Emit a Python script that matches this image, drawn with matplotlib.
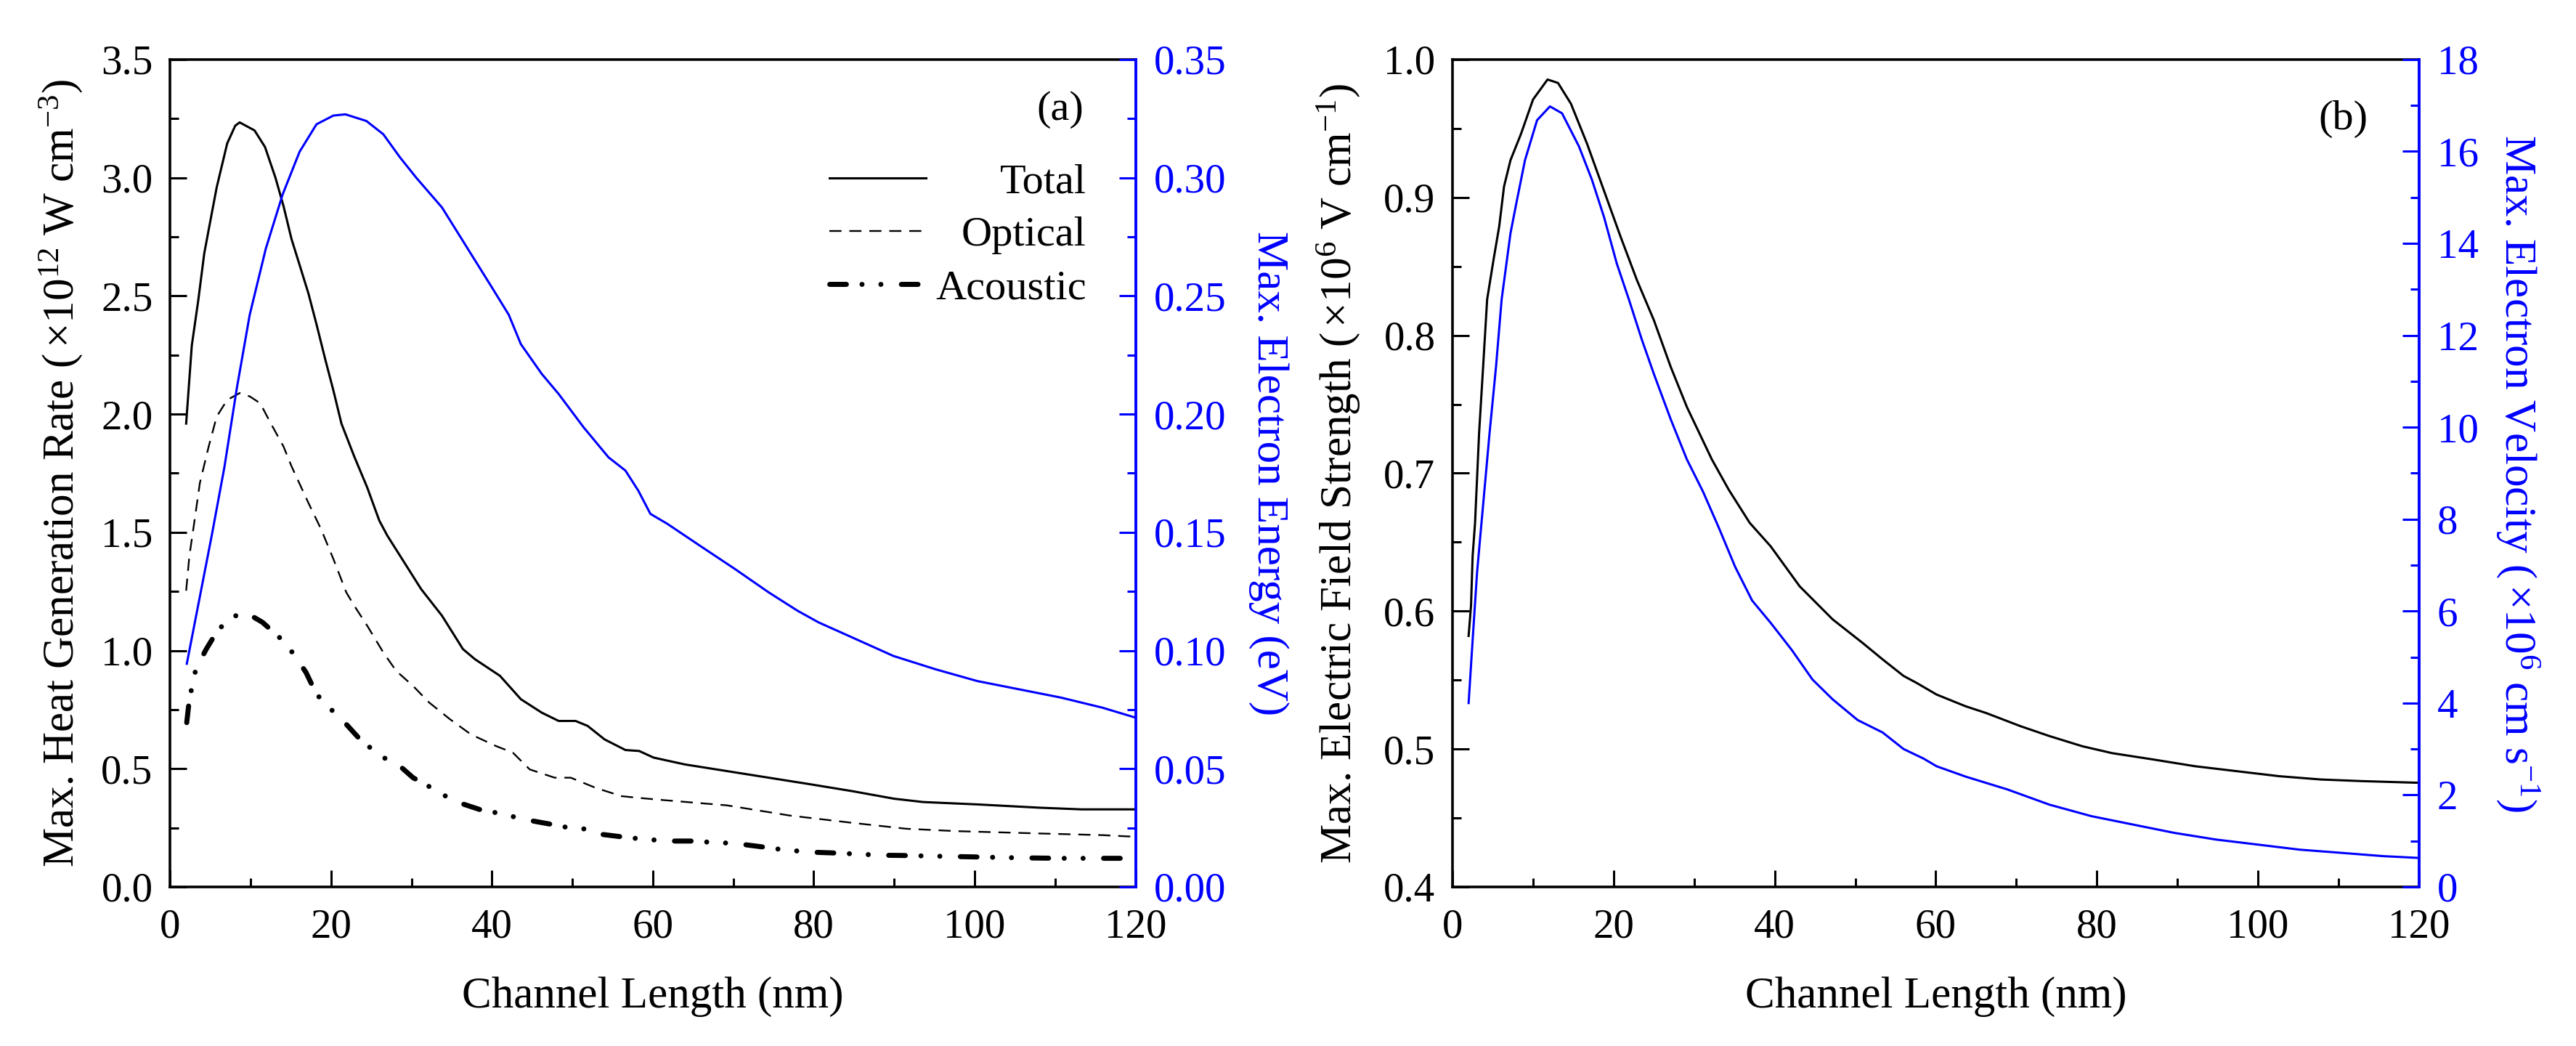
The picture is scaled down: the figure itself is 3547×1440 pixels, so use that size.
import matplotlib
matplotlib.use('Agg')
import matplotlib.pyplot as plt
from matplotlib.ticker import MultipleLocator, FormatStrFormatter
import matplotlib.transforms as mtransforms

plt.rcParams['font.family'] = ['Liberation Serif', 'DejaVu Serif']
plt.rcParams['mathtext.fontset'] = 'custom'
plt.rcParams['mathtext.rm'] = 'Liberation Serif'
plt.rcParams['mathtext.it'] = 'Liberation Serif:italic'
plt.rcParams['mathtext.bf'] = 'Liberation Serif:bold'
plt.rcParams['lines.scale_dashes'] = False

# ---------------- data: panel (a) ----------------
tot_x = [2.0, 2.7, 3.5, 4.25, 4.8, 5.8, 7.1, 8.1, 8.65, 10.5, 11.8, 13.1, 14.1, 15.1, 16.2, 17.2,
         18.2, 19.3, 20.3, 21.3, 22.9, 24.5, 26.0, 27.0, 28.6, 31.2, 33.8, 36.4, 37.9, 41.0, 43.6,
         46.2, 48.3, 50.4, 51.9, 54.0, 56.6, 58.3, 60.1, 64.0, 69.2, 74.4, 79.6, 84.8, 90.0, 93.6,
         100.3, 108.1, 113.3, 120.0]
tot_y = [1.96, 2.29, 2.48, 2.68, 2.78, 2.96, 3.145, 3.22, 3.234, 3.20, 3.13, 3.00, 2.88, 2.74, 2.62,
         2.51, 2.38, 2.23, 2.10, 1.96, 1.82, 1.69, 1.55, 1.486, 1.40, 1.26, 1.147, 1.006, 0.963, 0.893,
         0.794, 0.737, 0.702, 0.702, 0.681, 0.624, 0.579, 0.575, 0.547, 0.518, 0.49, 0.462, 0.434,
         0.405, 0.373, 0.359, 0.349, 0.335, 0.328, 0.328]

opt_x = [2.0, 2.4, 3.0, 3.7, 4.8, 5.8, 7.1, 8.65, 9.9, 11.2, 12.5, 14.1, 15.1, 17.2, 18.76, 20.3,
         21.9, 22.9, 24.5, 26.5, 28.1, 30.2, 32.2, 34.8, 37.4, 40.5, 42.6, 44.7, 47.8, 49.8, 52.9,
         56.1, 58.1, 61.4, 69.2, 77.0, 84.8, 91.5, 97.7, 108.1, 115.9, 120.0]
opt_y = [1.253, 1.40, 1.54, 1.708, 1.863, 1.99, 2.06, 2.089, 2.075, 2.046, 1.962, 1.863, 1.779, 1.624,
         1.514, 1.387, 1.246, 1.189, 1.105, 0.992, 0.914, 0.85, 0.78, 0.709, 0.645, 0.596, 0.568,
         0.497, 0.462, 0.462, 0.419, 0.384, 0.377, 0.367, 0.345, 0.302, 0.271, 0.246, 0.236, 0.226,
         0.219, 0.212]

ac_x = [2.07, 2.4, 3.2, 4.5, 5.5, 7.2, 9.4, 11.5, 13.6, 15.4, 16.9, 18.2, 19.8, 21.9, 23.8, 26.5,
        28.1, 30.2, 32.5, 35.3, 38.7, 41.0, 44.1, 47.5, 49.6, 52.4, 53.7, 56.1, 58.5, 61.9, 65.0,
        67.1, 70.2, 73.9, 76.0, 79.6, 82.2, 84.8, 88.4, 91.0, 95.1, 99.8, 105.5, 110.7, 114.9, 119.5]
ac_y = [0.695, 0.794, 0.921, 1.006, 1.062, 1.136, 1.161, 1.119, 1.055, 0.984, 0.907, 0.815, 0.758,
        0.688, 0.617, 0.547, 0.525, 0.462, 0.419, 0.363, 0.325, 0.311, 0.285, 0.264, 0.25, 0.243,
        0.222, 0.212, 0.203, 0.194, 0.194, 0.189, 0.184, 0.168, 0.158, 0.147, 0.144, 0.14, 0.134,
        0.133, 0.13, 0.127, 0.123, 0.121, 0.121, 0.121]

en_x = [2.08, 3.6, 5.2, 6.75, 8.3, 9.9, 11.9, 14.0, 16.1, 18.2, 20.3, 21.8, 24.4, 26.5, 28.6, 30.6,
        33.8, 36.9, 40.0, 42.1, 43.6, 46.2, 48.3, 51.4, 54.5, 56.6, 58.2, 59.7, 61.8, 66.0, 70.2,
        74.4, 78.0, 80.6, 84.8, 89.9, 95.1, 100.3, 105.5, 110.7, 115.9, 120.0]
en_y = [0.0944, 0.121, 0.149, 0.1775, 0.211, 0.242, 0.270, 0.293, 0.311, 0.3226, 0.3263, 0.3268,
        0.324, 0.3184, 0.3085, 0.300, 0.2874, 0.2705, 0.2536, 0.242, 0.2296, 0.217, 0.2085, 0.1944,
        0.1817, 0.1761, 0.1676, 0.1578, 0.1536, 0.1440, 0.1345, 0.1246, 0.1168, 0.1119, 0.1055,
        0.0977, 0.0921, 0.0871, 0.0836, 0.0801, 0.0758, 0.0716]

# ---------------- data: panel (b) ----------------
f_x = [2.0, 2.3, 2.5, 2.8, 3.3, 3.8, 4.3, 5.1, 5.8, 6.4, 7.2, 8.5, 10.0, 11.8, 13.1, 14.7, 16.7,
       18.8, 20.9, 22.9, 25.0, 27.1, 29.1, 32.2, 34.3, 36.9, 39.5, 43.1, 47.2, 50.9, 53.4, 56.0,
       57.6, 60.1, 63.7, 66.3, 70.5, 74.1, 78.2, 81.9, 87.0, 92.2, 97.4, 102.6, 107.8, 113.0, 120.0]
f_y = [0.582, 0.604, 0.64, 0.664, 0.729, 0.777, 0.826, 0.855, 0.879, 0.908, 0.927, 0.946, 0.971,
       0.9855, 0.983, 0.968, 0.939, 0.905, 0.871, 0.84, 0.811, 0.777, 0.748, 0.71, 0.688, 0.664,
       0.647, 0.618, 0.594, 0.577, 0.565, 0.553, 0.548, 0.5395, 0.531, 0.526, 0.5166, 0.5094, 0.502,
       0.497, 0.4924, 0.4875, 0.4839, 0.4803, 0.4779, 0.4767, 0.4755]

v_x = [2.0, 2.5, 3.05, 3.6, 4.6, 5.4, 6.1, 7.2, 8.0, 9.0, 10.5, 12.1, 13.6, 15.7, 17.3, 18.8, 20.4,
       21.9, 23.5, 25.0, 27.1, 29.1, 31.1, 33.1, 35.1, 37.2, 39.5, 42.1, 44.7, 47.2, 50.3, 53.4,
       56.0, 58.5, 60.1, 63.7, 68.9, 74.1, 79.3, 84.5, 89.6, 94.8, 100.0, 105.2, 110.4, 115.5, 120.0]
v_y = [4.0, 5.37, 6.84, 7.92, 9.87, 11.31, 12.78, 14.22, 14.94, 15.81, 16.68, 16.98, 16.83, 16.11,
       15.39, 14.58, 13.56, 12.78, 11.91, 11.16, 10.17, 9.3, 8.6, 7.8, 6.96, 6.23, 5.745, 5.16,
       4.51, 4.08, 3.63, 3.36, 3.0, 2.79, 2.625, 2.4, 2.12, 1.79, 1.54, 1.356, 1.176, 1.03, 0.92,
       0.81, 0.74, 0.67, 0.63]

legend_labels = ['Total', 'Optical', 'Acoustic']

BLUE = '#0000ff'
TICK_FS = 41
LABEL_FS = 44
LEG_FS = 42

fig = plt.figure(figsize=(35.48, 14.4), dpi=100, facecolor='white')
axA = fig.add_axes([0.0660, 0.1521, 0.3747, 0.7910])
axB = fig.add_axes([0.5637, 0.1521, 0.3751, 0.7910])
axA2 = axA.twinx()
axB2 = axB.twinx()


def style(ax, ax2):
    for s in ['left', 'bottom', 'top']:
        ax.spines[s].set_linewidth(2.6)
    ax.spines['right'].set_visible(False)
    for s in ['left', 'bottom', 'top']:
        ax2.spines[s].set_visible(False)
    ax2.spines['right'].set_color(BLUE)
    ax2.spines['right'].set_linewidth(2.8)
    ax.tick_params(which='major', direction='in', length=16.5, width=2.2,
                   labelsize=TICK_FS, top=False, right=False)
    ax.tick_params(which='minor', direction='in', length=8.6, width=2.2,
                   top=False, right=False)
    ax.tick_params(axis='x', which='major', pad=21)
    ax.tick_params(axis='y', which='major', pad=17)
    ax2.tick_params(axis='y', which='major', direction='in', length=16.5, width=2.2,
                    colors=BLUE, labelsize=TICK_FS, pad=18)
    ax2.tick_params(axis='y', which='minor', direction='in', length=8.6, width=2.2,
                    colors=BLUE)
    ax.set_xlim(0, 120)
    ax.xaxis.set_major_locator(MultipleLocator(20))
    ax.xaxis.set_minor_locator(MultipleLocator(10))


# ---------------- panel (a) ----------------
style(axA, axA2)
l1, = axA.plot(tot_x, tot_y, color='black', lw=2.2, solid_joinstyle='round')
l2, = axA.plot(opt_x, opt_y, color='black', lw=1.7, linestyle=(0, (12, 7.8)))
l3, = axA.plot(ac_x, ac_y, color='black', lw=5.0,
               linestyle=(0, (16.5, 15.5, 0.01, 18.7, 0.01, 20.3)),
               dash_capstyle='round')
axA2.plot(en_x, en_y, color=BLUE, lw=2.2, solid_joinstyle='round')

axA.set_ylim(0, 3.5)
axA.yaxis.set_major_locator(MultipleLocator(0.5))
axA.yaxis.set_minor_locator(MultipleLocator(0.25))
axA.yaxis.set_major_formatter(FormatStrFormatter('%.1f'))
axA2.set_ylim(0, 0.35)
axA2.yaxis.set_major_locator(MultipleLocator(0.05))
axA2.yaxis.set_minor_locator(MultipleLocator(0.025))
axA2.yaxis.set_major_formatter(FormatStrFormatter('%.2f'))

axA.set_xlabel('Channel Length (nm)', fontsize=LABEL_FS)
axA.xaxis.set_label_coords(0.5, -0.108)
axA.set_ylabel('Max. Heat Generation Rate ($\\,$×10$^{12}$ W cm$^{-3}$)', fontsize=LABEL_FS)
axA.yaxis.set_label_coords(-0.0888, 0.5)
axA2.set_ylabel('Max. Electron Energy (eV)', fontsize=LABEL_FS, color=BLUE,
                rotation=270, va='bottom')
axA2.yaxis.set_label_coords(1.117, 0.5)
axA.text(0.946, 0.939, '(a)', transform=axA.transAxes, ha='right', va='center',
         fontsize=LEG_FS)

leg = axA.legend([l1, l2, l3], legend_labels, loc='center', bbox_to_anchor=(0.816, 0.7875),
                 frameon=False, fontsize=LEG_FS, handlelength=2.28, handletextpad=0.22,
                 labelspacing=0.34, borderpad=0, borderaxespad=0)

# ---------------- panel (b) ----------------
style(axB, axB2)
axB.plot(f_x, f_y, color='black', lw=2.2, solid_joinstyle='round')
axB2.plot(v_x, v_y, color=BLUE, lw=2.2, solid_joinstyle='round')

axB.set_ylim(0.4, 1.0)
axB.yaxis.set_major_locator(MultipleLocator(0.1))
axB.yaxis.set_minor_locator(MultipleLocator(0.05))
axB.yaxis.set_major_formatter(FormatStrFormatter('%.1f'))
axB2.set_ylim(0, 18)
axB2.yaxis.set_major_locator(MultipleLocator(2))
axB2.yaxis.set_minor_locator(MultipleLocator(1))
axB2.yaxis.set_major_formatter(FormatStrFormatter('%d'))

axB.set_xlabel('Channel Length (nm)', fontsize=LABEL_FS)
axB.xaxis.set_label_coords(0.5, -0.108)
axB.set_ylabel('Max. Electric Field Strength ($\\,$×10$^{6}$ V cm$^{-1}$)', fontsize=LABEL_FS)
axB.yaxis.set_label_coords(-0.094, 0.5)
axB2.set_ylabel('Max. Electron Velocity ($\\,$×10$^{6}$ cm s$^{-1}$)', fontsize=LABEL_FS,
                color=BLUE, rotation=270, va='bottom')
axB2.yaxis.set_label_coords(1.078, 0.5)
axB.text(0.947, 0.928, '(b)', transform=axB.transAxes, ha='right', va='center',
         fontsize=LEG_FS)

# right-align legend texts (Origin style)
fig.canvas.draw()
renderer = fig.canvas.get_renderer()
texts = leg.get_texts()
widths = [t.get_window_extent(renderer).width for t in texts]
mw = max(widths)
for t, w in zip(texts, widths):
    t.set_transform(t.get_transform() + mtransforms.Affine2D().translate(mw - w, 0))

fig.savefig('out.png', dpi=100, facecolor='white')
